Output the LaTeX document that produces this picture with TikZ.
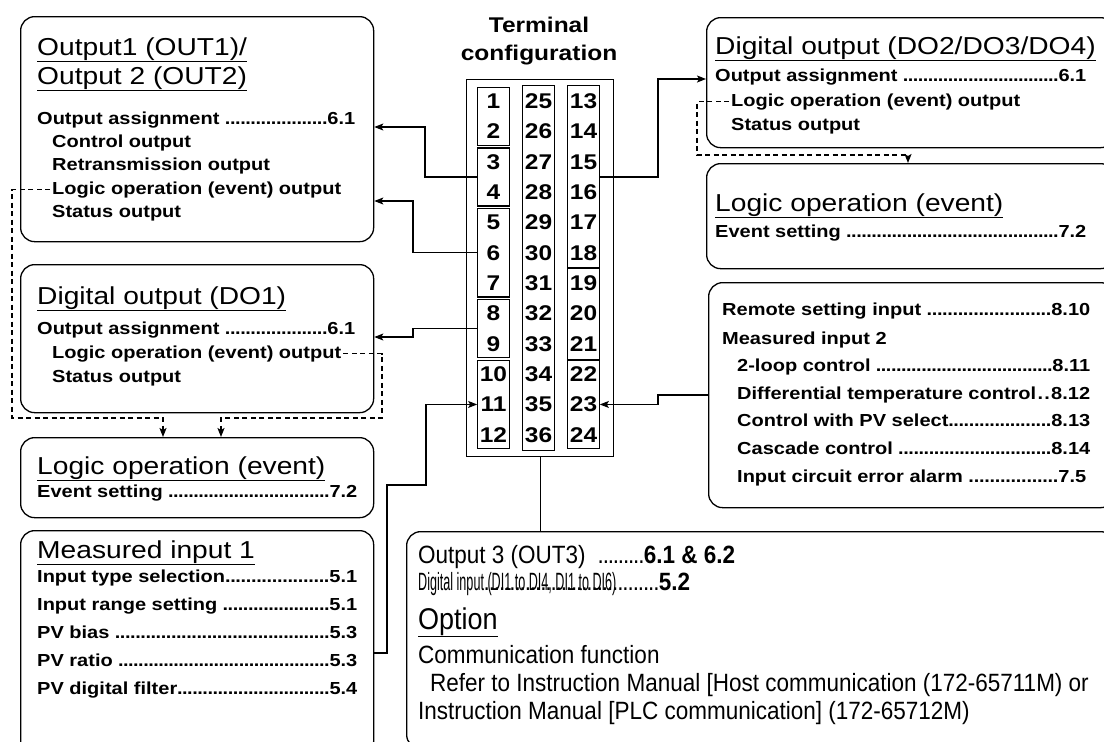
\documentclass[tikz,border=0pt]{standalone}
\usepackage{fontspec}
\usepackage{graphicx}
\setmainfont{Liberation Sans}[FakeStretch=1.15]
\newfontfamily\plainsans{Liberation Sans}[FakeStretch=0.9]
\usetikzlibrary{positioning,arrows.meta,fit}

\newcommand\headfont{\fontsize{24.5}{28}\selectfont}
\newcommand\bodyfont{\bfseries\fontsize{17.4}{21}\selectfont}
\newcommand\pinfont{\bfseries\fontsize{21.3}{28}\selectfont}
\newcommand\optfont{\plainsans\fontsize{25}{28}\selectfont}
\newcommand\optheadfont{\plainsans\fontsize{30}{34}\selectfont}
% leader dots, and a line of fixed width with dots up to the section number
\newcommand\ldr{\xleaders\hbox to 5pt{\hss.\hss}\hskip 0pt plus 1fill\relax}
\newcommand\ldline[3]{\hbox to #1pt{#2\ldr#3}}

\begin{document}
\begin{tikzpicture}[x=1pt,y=-1pt,
  panel/.style={draw,line width=1.3pt,rounded corners=14pt,inner sep=0pt,anchor=north west},
  pin/.style={minimum width=31pt,minimum height=30.33pt,inner sep=0pt,font=\pinfont},
  grp/.style={draw,line width=1.3pt,inner xsep=0pt,inner ysep=-1.5pt},
  hd/.style={anchor=base west,inner sep=0pt,font=\headfont},
  txt/.style={anchor=base west,inner sep=0pt,font=\bodyfont},
  opt/.style={anchor=base west,inner sep=0pt,font=\optfont},
  wire/.style={line width=1.2pt},
  feed/.style={wire,-{Stealth[length=9pt,width=7pt,inset=2pt]}},
  evt/.style={wire,dash pattern=on 5pt off 3.5pt,-{Stealth[length=9pt,width=7pt,inset=2pt]}},
]
  \useasboundingbox (0,0) rectangle (1104,742);
  \fill[white] (0,0) rectangle (1104,742);

  % Terminal block
  \node[font=\pinfont,align=center,inner sep=0pt,anchor=north] (title) at (539,17) {Terminal\\configuration};
  \node[draw,line width=1.3pt,anchor=north west,inner sep=0pt,minimum width=147pt,minimum height=377pt] (term) at (466,79) {};
  \foreach \i in {1,...,12} {
    \pgfmathsetmacro\rowy{86+(\i-0.5)*30.33}
    \pgfmathtruncatemacro\cnum{\i+24}
    \pgfmathtruncatemacro\rnum{\i+12}
    \node[pin] (p\i) at (493.5,\rowy) {\i};
    \node[pin] (p\cnum) at (538.5,\rowy) {\cnum};
    \node[pin] (p\rnum) at (583.5,\rowy) {\rnum};
  }
  \node[grp,fit=(p1)(p2)] (g12) {};
  \node[grp,fit=(p3)(p4)] (g34) {};
  \node[grp,fit=(p5)(p7)] (g57) {};
  \node[grp,fit=(p8)(p9)] (g89) {};
  \node[grp,fit=(p10)(p12)] (g1012) {};
  \node[grp,fit=(p25)(p36),inner ysep=0pt] (g2536) {};
  \node[grp,fit=(p13)(p18),inner ysep=0pt] (g1318) {};
  \node[grp,fit=(p19)(p21),inner ysep=0pt] (g1921) {};
  \node[grp,fit=(p22)(p24)] (g2224) {};

  % Output1 / Output2
  \node[panel,minimum width=353pt,minimum height=225pt] (outA) at (20,16) {};
  \node[hd] (aH1) at (37,55) {\underline{Output1 (OUT1)/}};
  \node[hd] (aH2) at (37,84) {\underline{Output 2 (OUT2)}};
  \node[txt] (aL1) at (37,124) {\ldline{318}{Output assignment }{6.1}};
  \node[txt] (aL2) at (52,147) {Control output};
  \node[txt] (aL3) at (52,170) {Retransmission output};
  \node[txt] (aL4) at (52,194) {Logic operation (event) output};
  \node[txt] (aL5) at (52,217) {Status output};

  % Digital output DO1
  \node[panel,minimum width=353pt,minimum height=148pt] (outB) at (20,264) {};
  \node[hd] (bH) at (37,304) {\underline{Digital output (DO1)}};
  \node[txt] (bL1) at (37,334) {\ldline{318}{Output assignment }{6.1}};
  \node[txt] (bL2) at (52,358) {Logic operation (event) output};
  \node[txt] (bL3) at (52,382) {Status output};

  % Logic operation (left)
  \node[panel,minimum width=353pt,minimum height=80pt] (outC) at (20,437) {};
  \node[hd] (cH) at (37,474) {\underline{Logic operation (event)}};
  \node[txt] (cL) at (37,497) {\ldline{320}{Event setting }{7.2}};

  % Measured input 1
  \node[panel,minimum width=353pt,minimum height=225pt] (inD) at (20,530) {};
  \node[hd] (dH) at (37,558) {\underline{Measured input 1}};
  \node[txt] (dL1) at (37,582) {\ldline{320}{Input type selection}{5.1}};
  \node[txt] (dL2) at (37,610) {\ldline{320}{Input range setting }{5.1}};
  \node[txt] (dL3) at (37,638) {\ldline{320}{PV bias }{5.3}};
  \node[txt] (dL4) at (37,666) {\ldline{320}{PV ratio }{5.3}};
  \node[txt] (dL5) at (37,694) {\ldline{320}{PV digital filter}{5.4}};

  % Digital output DO2/DO3/DO4
  \node[panel,minimum width=408pt,minimum height=130pt] (outF) at (706,17) {};
  \node[hd] (fH) at (715,54) {\underline{Digital output (DO2/DO3/DO4)}};
  \node[txt] (fL1) at (715,81) {\ldline{371}{Output assignment }{6.1}};
  \node[txt] (fL2) at (731,106) {Logic operation (event) output};
  \node[txt] (fL3) at (731,130) {Status output};

  % Logic operation (right)
  \node[panel,minimum width=408pt,minimum height=105pt] (outG) at (706,163) {};
  \node[hd] (gH) at (715,211) {\underline{Logic operation (event)}};
  \node[txt] (gL) at (715,237) {\ldline{371}{Event setting }{7.2}};

  % Remote setting / Measured input 2
  \node[panel,minimum width=406pt,minimum height=225pt] (inH) at (708,282) {};
  \node[txt] (hL1) at (722,315) {\ldline{368}{Remote setting input }{8.10}};
  \node[txt] (hL2) at (722,344) {Measured input 2};
  \node[txt] (hL3) at (737,371) {\ldline{353}{2-loop control }{8.11}};
  \node[txt] (hL4) at (737,399) {\ldline{353}{Differential temperature control}{8.12}};
  \node[txt] (hL5) at (737,426) {\ldline{353}{Control with PV select}{8.13}};
  \node[txt] (hL6) at (737,454) {\ldline{353}{Cascade control }{8.14}};
  \node[txt] (hL7) at (737,482) {\ldline{349}{Input circuit error alarm }{7.5}};

  % Output 3 / digital input / option
  \node[panel,minimum width=708pt,minimum height=217pt] (optE) at (406,531) {};
  \node[opt] (eL1) at (418,563) {\ldline{317}{Output 3 (OUT3)\ \ }{\textbf{6.1 \& 6.2}}};
  \node[opt] (eL2) at (418,590) {\hbox to 272pt{\rlap{\scalebox{0.56}[1]{Digital input (DI1 to DI4, DI1 to DI6)}}\hskip 66pt\ldr\textbf{5.2}}};
  \node[opt,font=\optheadfont] (eH) at (418,629) {\underline{Option}};
  \node[opt] (eL3) at (418,663) {Communication function};
  \node[opt] (eL4) at (430,691) {Refer to Instruction Manual [Host communication (172-65711M) or};
  \node[opt] (eL5) at (418,719) {Instruction Manual [PLC communication] (172-65712M)};

  % Terminals to outputs
  \draw[feed] (g34.west) -| (425,127) -- (outA.east |- 0,127);
  \draw[feed] (g57.west) -| (413,201) -- (outA.east |- 0,201);
  \draw[feed] (g89.west) -| (413,337) -- (outB.east |- 0,337);
  \draw[feed] (g1318.east) -| (658,79) -- (outF.west |- 0,79);

  % Inputs to terminals
  \draw[feed] (inD.east |- 0,653) -- (387,653) |- (426,485) |- (g1012.west |- p11);
  \draw[feed] (inH.west |- 0,395) -- (658,395) |- (g2224.east |- p23);
  \draw[wire] (term.south) -- (term.south |- optE.north);

  % Event outputs to logic operation
  \draw[evt,shorten <=2pt] (aL4.west) -| (12,418) -| (outC.north -| 163,0);
  \draw[evt,shorten <=2pt] (bL2.east) -| (382,418) -| (outC.north -| 221,0);
  \draw[evt,shorten <=2pt] (fL2.west) -| (697,155) -| (outG.north -| 908,0);
\end{tikzpicture}
\end{document}
